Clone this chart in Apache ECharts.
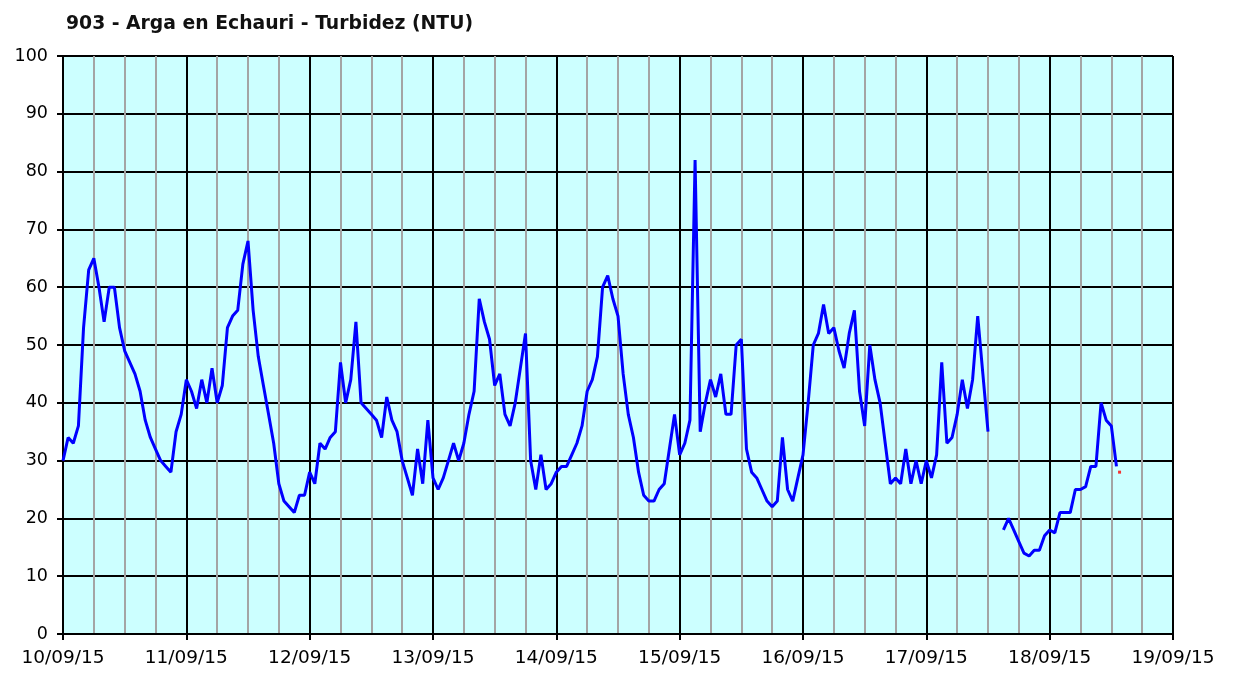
<!DOCTYPE html>
<html>
<head>
<meta charset="utf-8">
<script src="https://cdn.jsdelivr.net/npm/echarts@6/dist/echarts.min.js"></script>
<style>
  html, body { margin: 0; padding: 0; background: #ffffff; }
  #chart { width: 1233px; height: 675px; }
</style>
</head>
<body>
<div id="chart"></div>
<script>
// 日付ラベル（24時間ごと）
const dayLabels = ['10/09/15', '11/09/15', '12/09/15', '13/09/15', '14/09/15',
  '15/09/15', '16/09/15', '17/09/15', '18/09/15', '19/09/15'];

// 1時間ごとの濁度（NTU）、10/09/15 00:00 から。null は欠測
const turbidity = [
  30, 34, 33, 36, 53, 63, 65, 60, 54, 60, 60, 53, 49, 47, 45, 42, 37, 34, 32, 30, 29, 28, 35, 38,
  44, 42, 39, 44, 40, 46, 40, 43, 53, 55, 56, 64, 68, 56, 48, 43, 38, 33, 26, 23, 22, 21, 24, 24,
  28, 26, 33, 32, 34, 35, 47, 40, 44, 54, 40, 39, 38, 37, 34, 41, 37, 35, 30, 27, 24, 32, 26, 37,
  27, 25, 27, 30, 33, 30, 33, 38, 42, 58, 54, 51, 43, 45, 38, 36, 40, 46, 52, 30, 25, 31, 25, 26,
  28, 29, 29, 31, 33, 36, 42, 44, 48, 60, 62, 58, 55, 45, 38, 34, 28, 24, 23, 23, 25, 26, 32, 38,
  31, 33, 37, 82, 35, 40, 44, 41, 45, 38, 38, 50, 51, 32, 28, 27, 25, 23, 22, 23, 34, 25, 23, 27,
  31, 40, 50, 52, 57, 52, 53, 49, 46, 52, 56, 42, 36, 50, 44, 40, 33, 26, 27, 26, 32, 26, 30, 26,
  30, 27, 31, 47, 33, 34, 38, 44, 39, 44, 55, 45, 35, null, null, 18, 20, 18, 16, 14, 13.5, 14.5,
  14.5, 17, 18, 17.5, 21, 21, 21, 25, 25, 25.5, 29, 29, 40, 37, 36, 29
];

// 赤い単独点
const redPointHour = 205.6;
const redPointValue = 28;

// 縦軸の範囲
const yMin = 0;
const yMax = 100;
const yStep = 10;

// グラフを表示するHTML要素を取得してEChartsを初期化する
const chart = echarts.init(document.querySelector('#chart'));

// [時間, 値] の配列に変換する
const lineData = turbidity.map((v, i) => [i, v]);

const option = {
  animation: false,
  title: {
    text: '903 - Arga en Echauri - Turbidez (NTU)',
    left: 61,
    top: 10,
    textStyle: {
      fontFamily: 'DejaVu Sans',
      fontWeight: 'bold',
      fontSize: 18.8,
      color: '#111111'
    }
  },
  grid: {
    left: 63,
    right: 60,
    top: 56,
    bottom: 41,
    show: true,
    backgroundColor: '#ccffff',
    borderWidth: 0
  },
  xAxis: {
    type: 'value',
    min: 0,
    max: (dayLabels.length - 1) * 24,
    interval: 24,
    axisLine: { lineStyle: { color: '#000000', width: 2 } },
    axisTick: { show: true, length: 6, lineStyle: { color: '#000000', width: 2 } },
    axisLabel: {
      fontFamily: 'DejaVu Sans',
      fontSize: 18.5,
      color: '#000000',
      margin: 15,
      formatter: value => dayLabels[Math.round(value / 24)]
    },
    splitLine: { show: true, lineStyle: { color: '#000000', width: 2 } },
    minorTick: { show: false, splitNumber: 4 },
    minorSplitLine: { show: true, lineStyle: { color: '#a4a4a4', width: 2 } }
  },
  yAxis: {
    type: 'value',
    min: yMin,
    max: yMax,
    interval: yStep,
    axisLine: { show: true, lineStyle: { color: '#000000', width: 2 } },
    axisTick: { show: true, length: 6, lineStyle: { color: '#000000', width: 2 } },
    axisLabel: {
      fontFamily: 'DejaVu Sans',
      fontSize: 17.5,
      color: '#000000',
      margin: 15
    },
    splitLine: { show: true, lineStyle: { color: '#000000', width: 2 } }
  },
  series: [
    {
      name: 'Turbidez',
      type: 'line',
      data: lineData,
      showSymbol: false,
      connectNulls: false,
      lineStyle: { color: '#0000ff', width: 3 },
      itemStyle: { color: '#0000ff' },
      z: 3
    },
    {
      name: 'punto',
      type: 'scatter',
      data: [[redPointHour, redPointValue]],
      symbol: 'rect',
      symbolSize: 3,
      itemStyle: { color: '#ff0000' },
      z: 4
    }
  ]
};

chart.setOption(option);
</script>
</body>
</html>
